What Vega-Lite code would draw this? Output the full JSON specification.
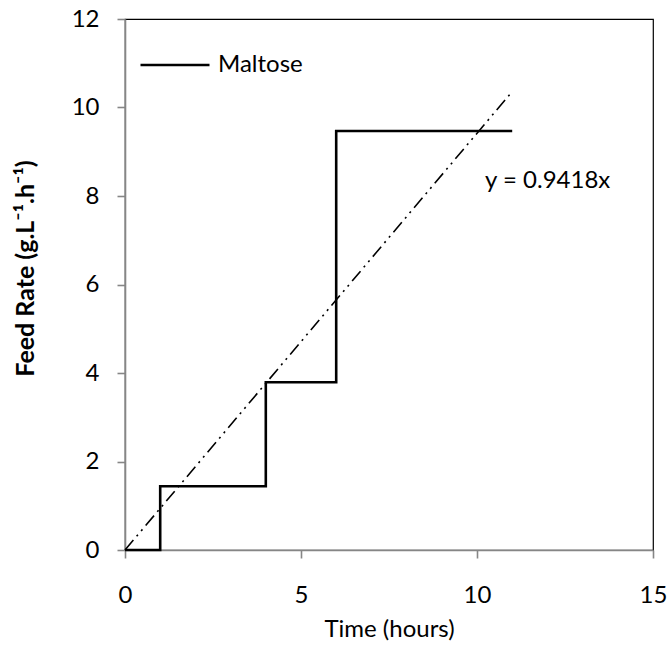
{
  "$schema": "https://vega.github.io/schema/vega-lite/v6.json",
  "width": 528,
  "height": 531,
  "autosize": {"type": "none"},
  "padding": {"left": 125, "top": 19, "right": 18, "bottom": 96},
  "background": "white",
  "config": {
    "font": "Lato",
    "view": {"stroke": "#000000", "strokeWidth": 1.2},
    "axis": {
      "grid": false,
      "domainColor": "#868686",
      "domainWidth": 1.6,
      "tickColor": "#868686",
      "tickWidth": 1.6,
      "tickSize": 8,
      "labelFont": "Lato",
      "labelFontSize": 24,
      "labelColor": "#000000",
      "titleFont": "Lato",
      "titleFontSize": 24,
      "titleColor": "#000000"
    }
  },
  "datasets": {
    "feed": [
      {"time": 0, "rate": 0, "series": "Maltose"},
      {"time": 1, "rate": 1.44, "series": "Maltose"},
      {"time": 4, "rate": 3.79, "series": "Maltose"},
      {"time": 6, "rate": 9.47, "series": "Maltose"},
      {"time": 11, "rate": 9.47, "series": "Maltose"}
    ],
    "trend": [
      {"time": 0, "rate": 0},
      {"time": 11, "rate": 10.36}
    ],
    "equation": [
      {"time": 10.23, "rate": 8.18, "label": "y = 0.9418x"}
    ]
  },
  "layer": [
    {
      "data": {"name": "trend"},
      "mark": {"type": "line", "color": "#000000", "strokeWidth": 1.6, "strokeDash": [13, 5, 2, 5, 2, 5]},
      "encoding": {
        "x": {
          "field": "time",
          "type": "quantitative",
          "scale": {"domain": [0, 15], "nice": false},
          "axis": {"values": [0, 5, 10, 15], "title": "Time (hours)", "titleFontWeight": "normal", "labelPadding": 25, "titlePadding": 10, "labelFlush": false}
        },
        "y": {
          "field": "rate",
          "type": "quantitative",
          "scale": {"domain": [0, 12], "nice": false},
          "axis": {
            "values": [0, 2, 4, 6, 8, 10, 12],
            "title": "Feed Rate (g.L⁻¹.h⁻¹)",
            "titleFontWeight": "bold",
            "titleFontSize": 25,
            "titleAngle": -90,
            "titleAlign": "center",
            "titleBaseline": "alphabetic",
            "titleX": -92,
            "titleY": 249,
            "labelPadding": 18
          }
        }
      }
    },
    {
      "data": {"name": "feed"},
      "mark": {"type": "line", "interpolate": "step-after", "strokeWidth": 2.6},
      "encoding": {
        "x": {"field": "time", "type": "quantitative"},
        "y": {"field": "rate", "type": "quantitative"},
        "color": {
          "field": "series",
          "type": "nominal",
          "scale": {"domain": ["Maltose"], "range": ["#000000"]},
          "legend": {
            "title": null,
            "orient": "none",
            "legendX": 14,
            "legendY": 10,
            "padding": 0,
            "symbolType": "stroke",
            "symbolSize": 4761,
            "symbolStrokeWidth": 2.6,
            "symbolStrokeColor": "#000000",
            "labelFontSize": 24,
            "labelFont": "Lato",
            "labelColor": "#000000",
            "labelOffset": 7
          }
        }
      }
    },
    {
      "data": {"name": "equation"},
      "mark": {"type": "text", "align": "left", "baseline": "alphabetic", "fontSize": 24, "font": "Lato", "color": "#000000"},
      "encoding": {
        "x": {"field": "time", "type": "quantitative"},
        "y": {"field": "rate", "type": "quantitative"},
        "text": {"field": "label"}
      }
    }
  ]
}
